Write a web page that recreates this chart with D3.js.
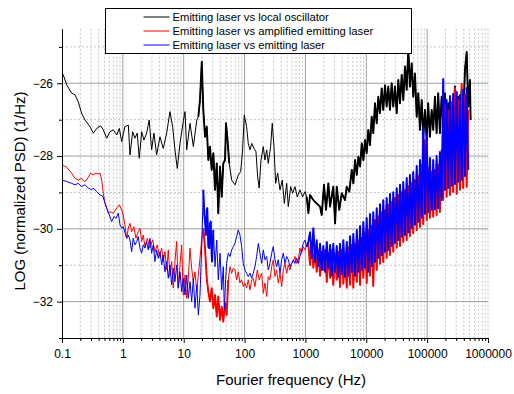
<!DOCTYPE html>
<html>
<head>
<meta charset="utf-8">
<script src="https://cdn.jsdelivr.net/npm/d3@7"></script>
<style>
  body { margin: 0; background: #fff; }
  #chart { width: 514px; height: 394px; }
  text { font-family: "Liberation Sans", Arial, sans-serif; }
</style>
</head>
<body>
<div id="chart"></div>
<script>
// tick values and labels
var xTicks = [0.1, 1, 10, 100, 1000, 10000, 100000, 1000000];
var xTickLabels = ["0.1", "1", "10", "100", "1000", "10000", "100000", "1000000"];
var yTicks = [-32, -30, -28, -26];
var yMinorTicks = [-33, -31, -29, -27, -25];

var seriesNames = [
  "Emitting laser vs local oscillator",
  "Emitting laser vs amplified emitting laser",
  "Emitting laser vs emitting laser"
];
var seriesColors = ["#000000", "#ff0000", "#0000ff"];

// [frequency Hz, log PSD]
var localOsc = [[0.1,-25.72],[0.105,-25.77],[0.12,-26.05],[0.144,-26.27],[0.164,-26.32],[0.185,-26.51],[0.21,-26.82],[0.239,-27.01],[0.288,-27.19],[0.327,-27.37],[0.372,-27.24],[0.432,-27.17],[0.477,-27.28],[0.542,-27.51],[0.615,-27.33],[0.697,-27.28],[0.792,-27.42],[0.874,-27.24],[0.957,-27.6],[1.08,-27.19],[1.23,-27.15],[1.31,-27.97],[1.45,-27.33],[1.58,-27.51],[1.72,-27.37],[1.86,-28.06],[2.04,-27.33],[2.22,-27.56],[2.46,-27.37],[2.71,-27.01],[2.97,-27.83],[3.24,-27.37],[3.59,-27.97],[4.07,-27.47],[4.61,-27.79],[5.25,-27.37],[5.94,-26.78],[6.58,-27.19],[7.18,-27.83],[7.84,-28.34],[8.69,-27.65],[9.83,-27.05],[10.5,-26.78],[11.2,-27.83],[12.7,-27.1],[14.4,-27.74],[16.4,-27.01],[17.4,-26.92],[18.5,-26.46],[19.8,-25.41],[21.0,-26.73],[22.4,-27.47],[23.9,-27.19],[25.4,-28.11],[27.0,-27.74],[28.8,-28.38],[30.7,-27.92],[32.7,-28.93],[34.9,-28.2],[37.0,-29.57],[39.5,-28.29],[42.1,-29.12],[44.7,-28.2],[47.7,-28.11],[49.6,-27.1],[52.0,-27.47],[56.0,-28.2],[61.4,-28.66],[69.6,-28.79],[78.8,-28.52],[86.2,-28.43],[92.9,-27.83],[98.9,-26.87],[108,-27.19],[115,-27.65],[123,-27.83],[131,-27.65],[143,-27.79],[154,-27.88],[164,-28.57],[174,-28.88],[186,-28.11],[203,-27.74],[216,-28.11],[231,-27.83],[245,-28.2],[268,-27.74],[285,-27.1],[304,-27.74],[324,-28.75],[350,-28.47],[382,-28.93],[417,-28.66],[450,-29.3],[492,-28.75],[523,-29.39],[572,-28.84],[617,-29.02],[673,-28.84],[734,-29.12],[812,-28.93],[899,-29.12],[983,-28.98],[1050,-29.12],[1120,-29.57],[1190,-29.07],[1350,-29.21],[1530,-29.3],[1740,-29.39],[1850,-29.62],[2020,-28.79],[2180,-29.48],[2380,-28.75],[2540,-29.39],[2870,-28.84],[3070,-29.85],[3270,-28.84],[3600,-29.48],[3950,-29.02],[4470,-29.21],[4770,-28.84],[5260,-28.98],[5770,-28.38],[6130,-28.75],[6540,-28.11],[6980,-28.52],[7420,-28.02],[7910,-28.29],[8430,-27.65],[8960,-28.11],[9540,-27.56],[10150,-27.92],[10800,-27.28],[11500,-27.7],[12270,-26.92],[13040,-27.37],[13900,-26.55],[14820,-27.1],[15760,-26.37],[16800,-26.82],[17900,-26.14],[19030,-26.73],[20300,-26.05],[21600,-26.64],[23000,-26.09],[24500,-26.73],[26130,-26.0],[27800,-26.64],[29620,-26.09],[31600,-26.82],[33600,-25.91],[35800,-26.55],[38200,-25.77],[40600,-26.46],[43300,-25.54],[46100,-26.18],[49000,-25.03],[52200,-26.09],[55700,-25.45],[59200,-26.37],[63100,-25.73],[67300,-26.92],[71600,-26.27],[76300,-27.28],[81300,-26.46],[86500,-27.47],[92200,-26.73],[98300,-27.56],[104000,-26.55],[111000,-27.47],[118600,-26.73],[126000,-27.28],[134400,-26.37],[143000,-27.37],[152000,-26.27],[162000,-27.37],[173000,-26.37],[184000,-27.1],[196000,-26.27],[209000,-27.28],[222000,-26.55],[237000,-27.56],[253000,-26.55],[268000,-27.28],[286000,-26.09],[306000,-27.19],[324000,-26.37],[346000,-27.1],[369000,-26.18],[392000,-27.01],[418000,-25.63],[446000,-25.14],[473000,-26.64],[505000,-25.91],[518000,-27.01]];

var amplified = [[0.1,-28.24],[0.12,-28.31],[0.144,-28.47],[0.164,-28.61],[0.185,-28.66],[0.21,-28.61],[0.23,-28.7],[0.254,-28.66],[0.296,-28.47],[0.327,-28.52],[0.362,-28.47],[0.395,-28.49],[0.421,-28.47],[0.449,-28.66],[0.477,-29.02],[0.509,-29.3],[0.542,-29.43],[0.577,-29.57],[0.615,-29.53],[0.697,-29.57],[0.792,-29.43],[0.874,-29.34],[0.957,-29.48],[1.015,-29.62],[1.08,-29.89],[1.154,-30.26],[1.23,-29.98],[1.31,-29.85],[1.395,-30.08],[1.52,-29.94],[1.64,-30.26],[1.79,-30.08],[1.91,-29.98],[2.04,-30.35],[2.16,-30.17],[2.31,-30.49],[2.52,-30.26],[2.79,-30.53],[3.09,-30.3],[3.37,-30.63],[3.68,-30.44],[3.97,-30.76],[4.35,-30.53],[4.61,-30.9],[4.92,-30.63],[5.25,-31.13],[5.58,-30.58],[5.94,-31.31],[6.34,-30.9],[6.74,-31.63],[7.18,-30.9],[7.66,-30.35],[8.14,-31.63],[8.69,-30.99],[9.27,-30.44],[9.83,-31.82],[10.5,-31.27],[11.2,-31.91],[11.9,-31.36],[12.7,-30.53],[13.5,-31.08],[14.4,-31.45],[15.3,-31.18],[16.4,-31.73],[17.4,-31.27],[18.5,-30.81],[19.8,-30.26],[21.0,-29.98],[22.4,-30.53],[23.9,-31.36],[25.4,-31.73],[27.0,-32.0],[28.8,-31.63],[30.7,-32.18],[32.7,-31.82],[34.9,-32.41],[37.0,-31.86],[39.5,-32.5],[42.1,-32.14],[44.7,-32.55],[47.7,-32.04],[50.7,-32.37],[54.0,-31.4],[57.6,-31.04],[61.4,-31.22],[65.3,-31.08],[69.6,-31.13],[74.1,-31.4],[78.8,-31.18],[84.0,-31.49],[89.4,-31.4],[95.2,-31.59],[101.5,-31.49],[108,-31.63],[115,-31.4],[123,-31.68],[131,-31.4],[139,-31.36],[148,-31.59],[162,-31.13],[174,-31.4],[191,-31.22],[203,-31.77],[216,-31.49],[231,-31.86],[245,-31.31],[261,-31.4],[279,-31.04],[296,-30.85],[316,-31.31],[337,-31.13],[358,-31.49],[382,-31.22],[407,-31.59],[433,-31.13],[461,-30.95],[492,-31.22],[523,-30.99],[558,-31.13],[595,-30.95],[632,-30.9],[673,-30.76],[718,-30.95],[763,-30.85],[812,-30.53],[866,-30.67],[921,-30.49],[983,-30.58],[1050,-30.44],[1120,-30.44],[1190,-30.99],[1270,-30.39],[1350,-31.07],[1440,-30.52],[1530,-31.18],[1630,-30.58],[1740,-31.29],[1850,-30.63],[1970,-31.13],[2100,-30.58],[2240,-31.46],[2380,-30.69],[2540,-31.35],[2700,-30.58],[2870,-31.54],[3070,-30.72],[3270,-31.4],[3470,-30.63],[3700,-31.6],[3950,-30.58],[4200,-31.51],[4470,-30.69],[4770,-31.62],[5070,-30.52],[5410,-31.54],[5770,-30.44],[6130,-31.62],[6540,-30.41],[6980,-31.46],[7420,-30.31],[7910,-31.54],[8430,-30.25],[8960,-31.35],[9540,-30.09],[10150,-31.49],[10800,-30.03],[11500,-31.29],[12270,-29.92],[13040,-31.57],[13900,-29.76],[14820,-31.13],[15760,-29.65],[16800,-30.96],[17900,-29.54],[19030,-30.91],[20300,-29.48],[21600,-30.8],[23000,-29.34],[24500,-30.72],[26130,-29.26],[27800,-30.63],[29620,-29.15],[31600,-30.52],[33600,-29.07],[35800,-30.47],[38200,-28.99],[40600,-30.36],[43300,-28.93],[46100,-30.31],[49000,-28.82],[52200,-30.2],[55700,-28.74],[59200,-30.12],[63100,-28.66],[67300,-30.03],[71600,-28.55],[76300,-29.95],[81300,-28.24],[86500,-29.87],[92200,-27.56],[98300,-29.76],[104000,-28.33],[111000,-29.7],[118600,-28.44],[126000,-29.67],[134400,-28.38],[143000,-29.62],[152000,-28.24],[162000,-29.54],[173000,-27.83],[184000,-29.21],[196000,-26.6],[209000,-29.12],[222000,-26.73],[237000,-29.07],[253000,-26.52],[268000,-28.99],[286000,-26.13],[306000,-29.04],[324000,-26.46],[346000,-28.93],[369000,-26.02],[392000,-28.88],[418000,-26.32],[446000,-28.85],[473000,-26.73]];

var emitting = [[0.1,-28.66],[0.12,-28.7],[0.144,-28.75],[0.164,-28.79],[0.185,-28.75],[0.21,-28.84],[0.239,-28.79],[0.271,-28.88],[0.308,-28.93],[0.327,-28.88],[0.372,-28.98],[0.421,-29.07],[0.466,-29.1],[0.49,-29.21],[0.542,-29.43],[0.599,-29.62],[0.656,-29.8],[0.715,-29.66],[0.771,-29.71],[0.842,-29.57],[0.898,-29.89],[0.957,-29.98],[1.015,-29.94],[1.154,-30.26],[1.23,-30.17],[1.31,-30.31],[1.395,-30.63],[1.48,-30.26],[1.58,-30.44],[1.69,-30.35],[1.79,-30.21],[1.91,-30.53],[2.04,-30.67],[2.16,-30.44],[2.31,-30.53],[2.46,-30.35],[2.61,-30.58],[2.79,-30.26],[2.97,-30.67],[3.16,-30.44],[3.37,-30.9],[3.59,-30.58],[3.82,-30.81],[4.07,-30.63],[4.35,-30.99],[4.61,-30.72],[4.92,-31.18],[5.25,-30.9],[5.58,-31.36],[5.94,-30.99],[6.34,-31.54],[6.74,-31.08],[7.18,-31.45],[7.66,-30.99],[8.14,-31.63],[8.69,-31.18],[9.27,-31.73],[9.83,-31.36],[10.5,-31.82],[11.2,-31.27],[11.9,-31.91],[12.7,-31.45],[13.5,-32.0],[14.4,-31.36],[15.3,-32.18],[16.4,-31.54],[17.4,-32.37],[18.5,-31.82],[19.8,-30.44],[21.0,-28.93],[21.8,-29.62],[22.4,-29.76],[23.2,-30.17],[23.9,-29.48],[24.4,-29.43],[25.4,-30.49],[26.3,-30.53],[27.0,-29.85],[27.8,-29.8],[28.8,-30.76],[29.2,-30.9],[30.7,-30.03],[32.7,-31.04],[34.9,-30.31],[37.0,-31.4],[39.5,-30.67],[42.1,-31.68],[44.7,-31.04],[46.5,-32.23],[48.9,-31.4],[50.7,-30.95],[54.0,-30.67],[57.6,-30.76],[61.4,-30.58],[65.3,-30.49],[69.6,-30.4],[74.1,-30.21],[78.8,-30.03],[84.0,-30.17],[89.4,-30.49],[95.2,-30.95],[101.5,-31.13],[108,-31.22],[115,-31.31],[123,-31.22],[131,-31.36],[139,-31.22],[148,-31.04],[158,-30.76],[168,-30.4],[179,-30.67],[191,-30.95],[203,-30.58],[216,-30.85],[231,-30.76],[245,-31.13],[261,-30.95],[279,-30.67],[296,-30.49],[316,-30.85],[337,-31.04],[358,-30.85],[382,-31.22],[407,-30.85],[433,-30.67],[461,-30.95],[492,-30.76],[523,-30.85],[558,-31.04],[595,-30.95],[632,-30.85],[673,-30.95],[718,-30.81],[763,-30.95],[812,-30.76],[866,-30.58],[921,-30.4],[983,-30.31],[1050,-30.49],[1120,-30.35],[1190,-30.09],[1270,-30.8],[1350,-29.98],[1440,-30.91],[1530,-30.31],[1630,-31.02],[1740,-30.41],[1850,-31.13],[1970,-30.47],[2100,-31.18],[2240,-30.36],[2380,-31.07],[2540,-30.44],[2700,-31.29],[2870,-30.41],[3070,-31.18],[3270,-30.47],[3470,-31.32],[3700,-30.41],[3950,-31.24],[4200,-30.31],[4470,-31.32],[4770,-30.36],[5070,-31.29],[5410,-30.2],[5770,-31.18],[6130,-30.14],[6540,-31.29],[6980,-30.03],[7420,-31.18],[7910,-29.92],[8430,-31.13],[8960,-29.81],[9540,-31.07],[10150,-29.7],[10800,-31.18],[11500,-29.59],[12270,-31.02],[13040,-29.54],[13900,-30.91],[14820,-29.43],[15760,-30.8],[16800,-29.32],[17900,-30.72],[19030,-29.21],[20300,-30.63],[21600,-29.15],[23000,-30.58],[24500,-29.04],[26130,-30.47],[27800,-28.99],[29620,-30.39],[31600,-28.88],[33600,-30.31],[35800,-28.79],[38200,-30.22],[40600,-28.71],[43300,-30.17],[46100,-28.6],[49000,-30.09],[52200,-28.52],[55700,-29.98],[59200,-28.44],[63100,-29.89],[67300,-28.27],[71600,-29.81],[76300,-28.11],[81300,-29.7],[86500,-27.21],[92200,-29.59],[98300,-27.42],[104000,-29.54],[111000,-28.05],[118600,-29.48],[126000,-28.11],[134400,-29.46],[143000,-28.0],[152000,-29.43],[162000,-27.89],[173000,-29.21],[184000,-25.88],[196000,-28.93],[209000,-26.46],[222000,-28.88],[237000,-26.35],[253000,-28.82],[268000,-26.29],[286000,-28.77],[306000,-26.24],[324000,-28.71],[346000,-26.32],[369000,-28.66],[392000,-26.18],[418000,-28.55],[446000,-26.13],[473000,-28.38]];

var allSeries = [localOsc, amplified, emitting];

// frequency spans where the trace is so dense it reads as a solid band
var denseSpans = [
  [[17, 60], [1000, 600000]],
  [[20, 55], [1000, 600000]],
  [[20, 32], [1000, 600000]]
];

var width = 514, height = 394;
var margin = {top: 28.7, right: 26, bottom: 56, left: 62};

var svg = d3.select("#chart").append("svg")
    .attr("width", width)
    .attr("height", height);

var x = d3.scaleLog()
    .domain([0.1, 1000000])
    .range([margin.left, width - margin.right]);

var y = d3.scaleLinear()
    .domain([-33, -24.5])
    .range([height - margin.bottom, margin.top]);

// minor x positions: the 2..9 multiples the log scale gives
var xMinor = x.ticks().filter(function(t) {
  return xTicks.indexOf(t) < 0;
});

var grid = svg.append("g").attr("class", "grid");

grid.selectAll("line.xminor")
  .data(xMinor.concat([1000000]))
  .enter().append("line")
    .attr("x1", function(d) { return x(d); })
    .attr("x2", function(d) { return x(d); })
    .attr("y1", y(-24.5))
    .attr("y2", y(-33))
    .attr("stroke", "#c4c4c4")
    .attr("stroke-dasharray", "2,2");

grid.selectAll("line.ymin")
  .data(yMinorTicks.filter(function(d) { return d > -33; }))
  .enter().append("line")
    .attr("x1", x(0.1))
    .attr("x2", x(1000000))
    .attr("y1", function(d) { return y(d); })
    .attr("y2", function(d) { return y(d); })
    .attr("stroke", "#c4c4c4")
    .attr("stroke-dasharray", "2,2");

grid.selectAll("line.xmajor")
  .data(xTicks.slice(1, -1))
  .enter().append("line")
    .attr("x1", function(d) { return x(d); })
    .attr("x2", function(d) { return x(d); })
    .attr("y1", y(-24.5))
    .attr("y2", y(-33))
    .attr("stroke", "#a0a0a0");

grid.selectAll("line.ymajor")
  .data(yTicks)
  .enter().append("line")
    .attr("x1", x(0.1))
    .attr("x2", x(1000000))
    .attr("y1", function(d) { return y(d); })
    .attr("y2", function(d) { return y(d); })
    .attr("stroke", "#a0a0a0");

var line = d3.line()
    .x(function(d) { return x(d[0]); })
    .y(function(d) { return y(d[1]); });

var traces = svg.append("g");

allSeries.forEach(function(series, i) {
  traces.append("path")
      .datum(series)
      .attr("d", line)
      .attr("fill", "none")
      .attr("stroke", seriesColors[i])
      .attr("stroke-width", 1)
      .attr("stroke-linejoin", "round");

  // heavier pass over the dense spans
  var dense = d3.line()
      .defined(function(d) {
        return denseSpans[i].some(function(s) { return d[0] >= s[0] && d[0] <= s[1]; });
      })
      .x(function(d) { return x(d[0]); })
      .y(function(d) { return y(d[1]); });

  traces.append("path")
      .datum(series)
      .attr("d", dense)
      .attr("fill", "none")
      .attr("stroke", seriesColors[i])
      .attr("stroke-width", 1.9)
      .attr("stroke-linejoin", "round");
});

// axes
svg.append("g")
    .attr("transform", "translate(0," + y(-33) + ")")
    .call(d3.axisBottom(x)
      .tickValues(xTicks)
      .tickFormat(function(d, i) { return xTickLabels[i]; })
      .tickSize(5)
      .tickPadding(6)
      .tickSizeOuter(0));

svg.append("g")
    .attr("transform", "translate(0," + y(-33) + ")")
    .call(d3.axisBottom(x)
      .tickValues(xMinor)
      .tickFormat("")
      .tickSize(3)
      .tickSizeOuter(0))
    .select(".domain").remove();

svg.append("g")
    .attr("transform", "translate(" + x(0.1) + ",0)")
    .call(d3.axisLeft(y)
      .tickValues(yTicks)
      .tickSize(5)
      .tickPadding(4)
      .tickSizeOuter(0));

svg.append("g")
    .attr("transform", "translate(" + x(0.1) + ",0)")
    .call(d3.axisLeft(y)
      .tickValues(yMinorTicks)
      .tickFormat("")
      .tickSize(3)
      .tickSizeOuter(0))
    .select(".domain").remove();

svg.selectAll(".tick text")
    .attr("font-size", 12)
    .attr("font-family", "'Liberation Sans', Arial, sans-serif")
    .attr("fill", "#000");

svg.append("text")
    .attr("x", 291)
    .attr("y", 385)
    .attr("text-anchor", "middle")
    .attr("font-size", 15)
    .text("Fourier frequency (Hz)");

svg.append("text")
    .attr("transform", "translate(25,191) rotate(-90)")
    .attr("text-anchor", "middle")
    .attr("font-size", 15)
    .text("LOG (normalized PSD) (1/Hz)");

// legend
var legend = svg.append("g").attr("transform", "translate(105.5,8.5)");

legend.append("rect")
    .attr("width", 306)
    .attr("height", 45)
    .attr("fill", "#fff")
    .attr("stroke", "#000");

var rows = legend.selectAll("g.row")
  .data(seriesNames)
  .enter().append("g")
    .attr("transform", function(d, i) { return "translate(0," + (8.5 + i * 14) + ")"; });

rows.append("line")
    .attr("x1", 38)
    .attr("x2", 64)
    .attr("stroke", function(d, i) { return seriesColors[i]; });

rows.append("text")
    .attr("x", 67)
    .attr("y", 4)
    .attr("font-size", 11.25)
    .text(function(d) { return d; });
</script>
</body>
</html>
